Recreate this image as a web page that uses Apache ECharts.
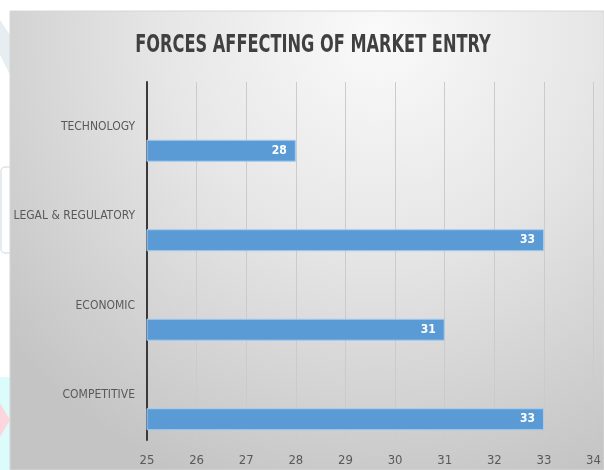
<!DOCTYPE html>
<html>
<head>
<meta charset="utf-8">
<script src="https://cdn.jsdelivr.net/npm/echarts@6/dist/echarts.min.js"></script>
<style>
html,body{margin:0;padding:0;background:#fff;}
#chart{width:604px;height:470px;}
</style>
</head>
<body>
<div id="chart"></div>
<script>
var titleText = 'FORCES AFFECTING OF MARKET ENTRY';
var categories = ['TECHNOLOGY', 'LEGAL & REGULATORY', 'ECONOMIC', 'COMPETITIVE'];
var values = [28, 33, 31, 33];
var emptyValues = [null, null, null, null];
var xMin = 25, xMax = 34, xStep = 1;

var FONT = '"Liberation Sans Narrow", "DejaVu Sans Condensed", "Open Sans", sans-serif';
var chart = echarts.init(document.getElementById('chart'));
chart.setOption({
  animation: false,
  backgroundColor: '#ffffff',
  graphic: [
    { type: 'polygon', z: -20, shape: { points: [[0,20],[10,35],[10,75],[0,55]] }, style: { fill: '#e6eef2' } },
    { type: 'rect', z: -20, shape: { x: 1, y: 167, width: 20, height: 86, r: 4 }, style: { fill: 'none', stroke: '#dde4ea', lineWidth: 1.5 } },
    { type: 'rect', z: -20, shape: { x: 0, y: 377, width: 10, height: 93 }, style: { fill: '#dcfbfb' } },
    { type: 'polygon', z: -19, shape: { points: [[0,403],[10,420],[0,437]] }, style: { fill: '#fcd6dc' } },
    { type: 'rect', z: -10, shape: { x: 10, y: 11, width: 594, height: 459 },
      style: {
        fill: { type: 'radial', x: 0.62, y: 0.05, r: 1.05,
          colorStops: [ { offset: 0, color: '#fafafa' }, { offset: 0.45, color: '#e6e6e6' }, { offset: 1, color: '#c4c4c4' } ] },
        stroke: '#d6d6d6', lineWidth: 1
      } },
    { type: 'text', z: 10, x: 313, y: 45, scaleX: 0.72, scaleY: 1,
      style: { text: titleText, x: 0, y: 0, textAlign: 'center', textVerticalAlign: 'middle',
        fontFamily: FONT, fontWeight: 'bold', fontSize: 25, fill: '#404040' } }
  ],
  grid: { left: 147, right: 7, top: 82, bottom: 30, containLabel: false },
  xAxis: {
    type: 'value', min: xMin, max: xMax, interval: xStep,
    axisLine: { show: false }, axisTick: { show: false },
    axisLabel: { color: '#595959', fontFamily: FONT, fontSize: 13, margin: 14 },
    splitLine: { show: true, lineStyle: { color: '#cbcbcb', width: 1 } }
  },
  yAxis: {
    type: 'category', data: categories, inverse: true,
    axisLine: { show: true, lineStyle: { color: '#3a3a3a', width: 2 } },
    axisTick: { show: false },
    axisLabel: { color: '#595959', fontFamily: FONT, fontSize: 12, margin: 12 }
  },
  series: [
    { type: 'bar', data: emptyValues, barWidth: 22, barGap: '118%' },
    {
      type: 'bar', data: values, barWidth: 22, barGap: '118%',
      itemStyle: { color: '#5b9bd5', borderColor: '#a8cbee', borderWidth: 1 },
      label: { show: true, position: 'insideRight', distance: 9, color: '#ffffff', fontFamily: FONT, fontWeight: 'bold', fontSize: 12 }
    }
  ]
});
</script>
</body>
</html>
